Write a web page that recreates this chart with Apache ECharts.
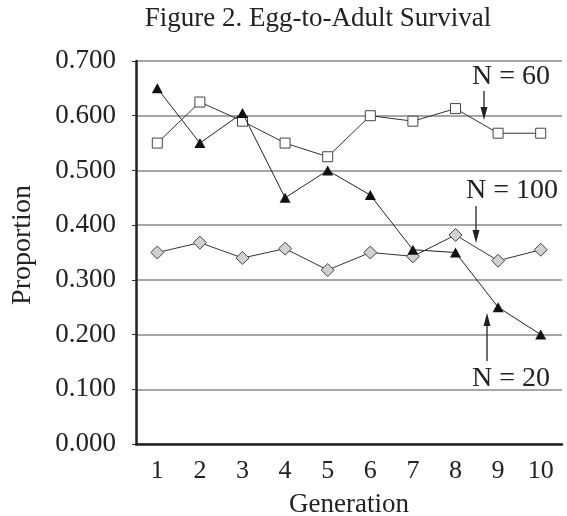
<!DOCTYPE html>
<html>
<head>
<meta charset="utf-8">
<script src="https://cdn.jsdelivr.net/npm/echarts@6/dist/echarts.min.js"></script>
<style>html,body{margin:0;padding:0;background:#fff}#c{width:567px;height:516px}</style>
</head>
<body>
<div id="c"></div>
<script>
var generations = ['1','2','3','4','5','6','7','8','9','10'];
var n60 = [0.550, 0.625, 0.590, 0.550, 0.525, 0.600, 0.590, 0.613, 0.568, 0.568];
var n20 = [0.650, 0.550, 0.605, 0.450, 0.500, 0.455, 0.355, 0.350, 0.250, 0.200];
var n100 = [0.350, 0.368, 0.340, 0.357, 0.318, 0.350, 0.343, 0.382, 0.335, 0.355];
var yTicks = [0, 0.1, 0.2, 0.3, 0.4, 0.5, 0.6, 0.7];

var FONT = '"Liberation Serif", "DejaVu Serif", serif';
var TXT = '#222';
var chart = echarts.init(document.getElementById('c'));

function arrow(x, y1, y2) {
  var dir = y2 > y1 ? 1 : -1;
  return [
    {type:'line', shape:{x1:x, y1:y1, x2:x, y2:y2 - dir*10}, style:{stroke:'#222', lineWidth:1.3}, z:10},
    {type:'polygon', shape:{points:[[x-3.5, y2 - dir*13],[x+3.5, y2 - dir*13],[x, y2]]}, style:{fill:'#222'}, z:10}
  ];
}

var graphics = [
  {type:'text', x:318, y:19, style:{text:'Figure 2. Egg-to-Adult Survival', font:'27px ' + FONT, fill:TXT, align:'center', verticalAlign:'middle'}},
  {type:'text', x:23, y:245, rotation:Math.PI/2, style:{text:'Proportion', font:'28px ' + FONT, fill:TXT, align:'center', verticalAlign:'middle'}},
  {type:'text', x:472, y:77, style:{text:'N = 60', font:'28px ' + FONT, fill:TXT, verticalAlign:'middle'}, z:10},
  {type:'text', x:466, y:191, style:{text:'N = 100', font:'28px ' + FONT, fill:TXT, verticalAlign:'middle'}, z:10},
  {type:'text', x:472, y:379, style:{text:'N = 20', font:'28px ' + FONT, fill:TXT, verticalAlign:'middle'}, z:10}
].concat(arrow(484, 91, 120)).concat(arrow(476, 206, 243)).concat(arrow(487, 361, 313));

chart.setOption({
  animation: false,
  backgroundColor: '#fff',
  grid: {left:136, right:5, top:61, bottom:72, containLabel:false, outerBoundsMode:'none'},
  xAxis: {
    type:'category', data: generations, boundaryGap: true,
    name:'Generation', nameLocation:'middle', nameGap:47,
    nameTextStyle:{fontFamily:FONT, fontSize:27, color:TXT},
    axisLine:{lineStyle:{color:'#222', width:2.5}},
    axisTick:{alignWithLabel:true, inside:true, length:8, lineStyle:{color:'#333', width:1}},
    axisLabel:{fontFamily:FONT, fontSize:26, color:TXT, margin:14},
    splitLine:{show:false}
  },
  yAxis: {
    type:'value', min:0, max:0.7, interval:0.1,
    axisLine:{show:true, lineStyle:{color:'#222', width:2.5}},
    axisTick:{show:true, length:4, lineStyle:{color:'#333'}},
    axisLabel:{fontFamily:FONT, fontSize:27, color:TXT, margin:20, formatter:function(v){return v.toFixed(3);}},
    splitLine:{lineStyle:{color:'#888', width:1.5}}
  },
  series: [
    {name:'N = 100', type:'line', data:n100, symbol:'diamond', symbolSize:13,
     lineStyle:{color:'#333', width:1}, itemStyle:{color:'#d0d0d0', borderColor:'#444', borderWidth:1}, z:3},
    {name:'N = 60', type:'line', data:n60, symbol:'rect', symbolSize:10,
     lineStyle:{color:'#333', width:1}, itemStyle:{color:'#fff', borderColor:'#444', borderWidth:1}, z:4},
    {name:'N = 20', type:'line', data:n20, symbol:'triangle', symbolSize:[11,10],
     lineStyle:{color:'#222', width:1}, itemStyle:{color:'#111', borderColor:'#111', borderWidth:0}, z:5}
  ],
  graphic: graphics
});
</script>
</body>
</html>
